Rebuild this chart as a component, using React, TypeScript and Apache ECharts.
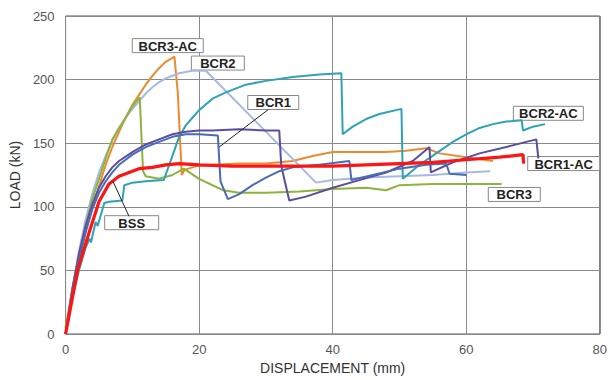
import React, { useEffect, useRef } from "react";
import * as echarts from "echarts";

// ---- data (displacement mm, load kN) ----
const bcr3ac: number[][] = [
  [0, 5], [1, 35], [2, 58], [3, 80], [4, 99], [5, 116], [6, 133], [7, 147], [8, 159], [9, 170],
  [10, 180], [11, 188], [12, 196], [13, 203], [14, 209], [15, 214], [16.3, 218], [16.8, 190],
  [17.4, 125], [17.8, 129], [19.6, 132], [22, 133], [26, 134], [30, 134], [34, 136], [37, 140],
  [40, 143], [44, 143], [48, 143], [51, 144], [54, 146], [56, 142], [60, 139], [64, 136],
];
const bcr2: number[][] = [
  [0, 0], [1, 35], [2, 65], [3, 90], [4, 110], [5, 127], [6, 140], [7, 152], [8, 162], [9, 170],
  [10, 177], [11, 183], [12, 189], [13, 194], [14, 198], [15, 201], [16, 203], [17, 205], [18, 206],
  [19, 207], [21, 207], [37.5, 119], [40, 121], [45, 123], [50, 124], [55, 125], [60, 127], [63.6, 128],
];
const bcr3: number[][] = [
  [0, 0], [1, 35], [2, 62], [3, 85], [4, 106], [5, 122], [6, 138], [7, 153], [8, 162], [9, 170],
  [10, 179], [11.1, 186], [11.6, 128], [12, 124], [14, 122], [16, 125], [17.7, 130], [20, 122],
  [23.6, 113], [26, 111], [30, 111], [35, 112], [40, 114], [45, 115], [48, 113], [50, 117],
  [55, 118], [60, 118], [65.3, 118],
];
const bcr2ac: number[][] = [
  [0, 0], [1, 28], [2, 50], [3, 68], [3.6, 75], [3.8, 72], [4.5, 88], [4.8, 85], [5.8, 103],
  [6.5, 104], [8.5, 105], [8.8, 117], [10, 119], [12, 120], [14.7, 121], [16, 140], [17, 155],
  [18, 164], [19, 170], [20, 176], [22, 185], [24, 190], [27, 196], [30, 199], [34, 202], [38, 204],
  [41.3, 205], [41.5, 157], [43, 163], [45, 169], [47, 173], [50.3, 177], [50.5, 122], [53, 133],
  [55.5, 142], [58, 151], [60, 157], [62, 162], [64, 165], [66, 167], [68.3, 168], [68.5, 160],
  [70, 163], [71.8, 165],
];
const bcr1ac: number[][] = [
  [0, 0], [1, 35], [2, 63], [3, 85], [4, 102], [5, 115], [6, 124], [7, 131], [8, 136], [10, 143],
  [12, 149], [14, 153], [16, 157], [18, 159], [20, 160], [22, 160], [26, 161], [30, 160], [32, 160],
  [32.3, 132], [33.5, 105], [36, 108], [40, 115], [44, 121], [48, 127], [52, 136], [54.5, 147],
  [54.7, 127], [58, 135], [62, 142], [66, 147], [70.5, 153], [70.8, 138],
];
const bcr1: number[][] = [
  [0, 0], [1, 32], [2, 58], [3, 80], [4, 98], [5, 111], [6, 120], [7, 127], [8, 133], [10, 141],
  [12, 147], [14, 151], [16, 155], [18, 157], [20, 157], [22.8, 156], [23.2, 120], [24.3, 106],
  [26, 110], [28, 117], [30, 123], [32, 128], [34, 131], [38, 133], [42.5, 136], [42.8, 121],
  [46, 125], [50, 130], [54, 133], [57, 134], [57.5, 126], [60, 125],
];
const bss: number[][] = [
  [0, 0], [1, 28], [1.8, 50], [3.3, 76], [5, 104], [6.5, 118], [8, 124], [10, 128], [11, 130],
  [13, 131], [15, 133], [17, 134], [20, 133], [25, 132], [30, 132], [35, 132], [40, 132], [45, 133],
  [50, 134], [55, 135], [60, 137], [65, 139], [68.5, 141], [68.6, 134],
];

const seriesNames = ["BCR3-AC", "BCR2", "BCR3", "BCR2-AC", "BCR1-AC", "BCR1", "BSS"];
const seriesData = [bcr3ac, bcr2, bcr3, bcr2ac, bcr1ac, bcr1, bss];
const seriesColors = ["#EE8A2E", "#A7B8E2", "#8DB33F", "#2EA3B5", "#5B4DA0", "#4A6CB4", "#FF1414"];
const seriesWidths = [2, 2, 2, 2, 2, 2, 3.2];

// label anchors (data coords: x, y) and box widths
const labelTexts = ["BCR3-AC", "BCR2", "BCR1", "BCR2-AC", "BCR1-AC", "BCR3", "BSS"];
const labelAnchors: number[][] = [
  [15.3, 226.7], [22.8, 213], [31.1, 182], [72.3, 173.5], [74.6, 134], [67.2, 109.7], [9.9, 87.5],
];
const labelWidths = [71, 53, 51, 70, 72, 52, 54];
// leader lines (data coords)
const leaders: number[][][] = [
  [[30.4, 176.6], [23, 147]],
  [[9.5, 92.5], [7.1, 120]],
];

const xTicks = [0, 80, 20];
const yTicks = [0, 250, 50];

export default function App() {
  const ref = useRef<HTMLDivElement>(null);
  useEffect(() => {
    if (!ref.current) return;
    const chart = echarts.init(ref.current, null, { renderer: "svg" });
    chart.setOption({
      animation: false,
      backgroundColor: "#ffffff",
      grid: {
        left: 63, right: 8, top: 16, bottom: 37,
        show: true, borderColor: "#555", borderWidth: 1,
      },
      xAxis: {
        type: "value", min: xTicks[0], max: xTicks[1], interval: xTicks[2],
        name: "DISPLACEMENT (mm)", nameLocation: "middle", nameGap: 27,
        nameTextStyle: { fontFamily: "Liberation Sans", fontSize: 14, color: "#333" },
        axisLine: { show: false }, axisTick: { show: false },
        axisLabel: { fontFamily: "Liberation Sans", fontSize: 13, color: "#555", margin: 9 },
        splitLine: { show: true, lineStyle: { color: "#8a8a8a", width: 1 } },
      },
      yAxis: {
        type: "value", min: yTicks[0], max: yTicks[1], interval: yTicks[2],
        name: "LOAD (kN)", nameLocation: "middle", nameGap: 37, nameRotate: 90,
        nameTextStyle: { fontFamily: "Liberation Sans", fontSize: 14, color: "#333" },
        axisLine: { show: false }, axisTick: { show: false },
        axisLabel: { fontFamily: "Liberation Sans", fontSize: 13, color: "#555", margin: 11 },
        splitLine: { show: true, lineStyle: { color: "#8a8a8a", width: 1 } },
      },
      series: seriesData.map((d, i) => ({
        name: seriesNames[i], type: "line", data: d, showSymbol: false, symbol: "none",
        lineStyle: { color: seriesColors[i], width: seriesWidths[i] },
        itemStyle: { color: seriesColors[i] },
        z: 2 + i,
      })),
    });
    const graphics: any[] = [];
    leaders.forEach((l) => {
      const a = chart.convertToPixel({ gridIndex: 0 }, l[0]);
      const b = chart.convertToPixel({ gridIndex: 0 }, l[1]);
      graphics.push({
        type: "line", z: 50,
        shape: { x1: a[0], y1: a[1], x2: b[0], y2: b[1] },
        style: { stroke: "#222", lineWidth: 1 },
      });
    });
    labelTexts.forEach((t, i) => {
      const c = chart.convertToPixel({ gridIndex: 0 }, labelAnchors[i]);
      const w = labelWidths[i];
      const h = 14;
      graphics.push({
        type: "group", x: c[0] - w / 2, y: c[1] - h / 2, z: 60,
        children: [
          { type: "rect", shape: { x: 0, y: 0, width: w, height: h }, style: { fill: "#fff", stroke: "#888", lineWidth: 1 } },
          {
            type: "text", x: w / 2, y: h / 2 + 0.5,
            style: {
              text: t, fill: "#222", font: "bold 13px 'Liberation Sans'",
              align: "center", verticalAlign: "middle",
            },
          },
        ],
      });
    });
    chart.setOption({ graphic: graphics });
    return () => chart.dispose();
  }, []);
  return <div ref={ref} style={{ position: "fixed", left: 0, top: 0, width: 610, height: 380 }} />;
}
